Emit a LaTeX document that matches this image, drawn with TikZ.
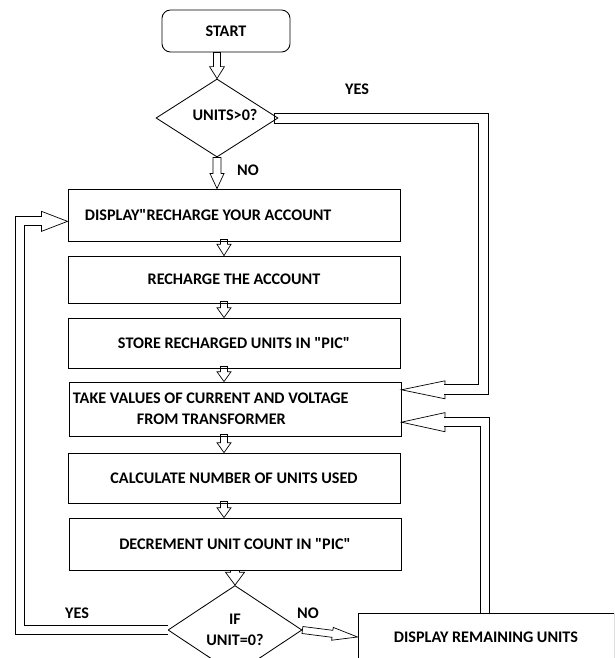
\documentclass[tikz,border=0pt]{standalone}
\usepackage{fontspec}
\setmainfont{Carlito}[Ligatures=TeXOff]
\usetikzlibrary{shapes.geometric}
\usetikzlibrary{arrows.meta}
\usetikzlibrary{calc}
\tikzset{>=latex}
\tikzset{
  box/.style={draw, line width=0.6pt, minimum width=8.3cm, minimum height=1.25cm, inner sep=0pt},
  decision/.style={draw, diamond, line width=0.6pt, inner sep=0pt, align=center},
  shaft/.style={double, double distance=#1, line width=0.5pt},
}
\newcommand\blockarrow{}
\def\blockarrow(#1)(#2)#3#4#5% (start) (tip) head length, head half width, shaft half width
  {\coordinate (hb) at ($(#2)!#3!(#1)$);
   \draw [line width=0.5pt] ($(#1)!#5!90:(#2)$) -- ($(hb)!#5!90:(#2)$) -- ($(hb)!#4!90:(#2)$) -- (#2)
     -- ($(hb)!#4!-90:(#2)$) -- ($(hb)!#5!-90:(#2)$) -- ($(#1)!#5!-90:(#2)$) -- cycle;}
\newcommand\hollowhead{}
\def\hollowhead(#1)(#2)#3#4#5% (corner) (tip) head length, head half width, shaft half width
  {\coordinate (hb) at ($(#2)!#3!(#1)$);
   \draw [line width=0.5pt] ($(hb)!#5!90:(#2)$) -- ($(hb)!#4!90:(#2)$) -- (#2)
     -- ($(hb)!#4!-90:(#2)$) -- ($(hb)!#5!-90:(#2)$);}

\begin{document}
\begin{tikzpicture}[x=0.025cm, y=-0.025cm, font=\fontsize{11.5}{15}\selectfont\bfseries]
                \clip (0, 0) rectangle (614, 658);
                % start and first test
                \node [draw, line width=0.6pt, rounded corners=6pt, minimum width=3.2cm, minimum height=1.05cm] (start) at (226, 31) {START};
                \node [decision, minimum width=3.05cm, minimum height=1.95cm] (q1) at (217, 118) {};
                \node (q1text) at (225, 115) {UNITS>0?};
                \node (yes1) at (357, 89) {YES};
                \node (no1) at (248, 170) {NO};
                % boxes
                \node [box, minimum height=1.3cm, text width=7.45cm, align=flush left] (box1) at (234, 215) {\raisebox{-3pt}{DISPLAY"RECHARGE YOUR ACCOUNT}};
                \node [box, minimum height=1.175cm] (box2) at (234, 279.5) {RECHARGE THE ACCOUNT};
                \node [box] (box3) at (234, 343) {STORE RECHARGED UNITS IN "PIC"};
                \node [box, minimum height=1.35cm, text width=8.1cm, align=flush left] (box4) at (235, 409) {TAKE VALUES OF CURRENT AND VOLTAGE\\\hspace*{1.6cm}FROM TRANSFORMER};
                \node [box] (box5) at (234, 478) {CALCULATE NUMBER OF UNITS USED};
                \node [box, minimum height=1.3cm] (box6) at (235, 544) {DECREMENT UNIT COUNT IN "PIC"};
                % second test
                \node [decision, minimum width=3.35cm, minimum height=1.85cm] (q2) at (235, 630) {IF\\UNIT=0?};
                \node (yes2) at (77, 613) {YES};
                \node (no2) at (308, 613) {NO};
                \node [draw, line width=0.6pt, minimum width=6.4cm, minimum height=1.2cm] (remain) at (486, 637) {DISPLAY REMAINING UNITS};
                % entry points and corners
                \coordinate (col) at (224, 0);
                \coordinate (yesin) at ($(box4.north east)!0.15!(box4.south east)$);
                \coordinate (backin) at ($(box4.north east)!0.74!(box4.south east)$);
                \coordinate (loopin) at ($(box1.north west)!0.62!(box1.south west)$);
                \coordinate (yestop) at (483, 0 |- q1.east);
                \coordinate (yescorner) at (483, 0 |- yesin);
                \coordinate (backcorner) at (485, 0 |- backin);
                \coordinate (loopcorner) at (20, 0 |- loopin);
                \coordinate (yesbase) at ($(yesin)!30.5pt!(yescorner)$);
                \coordinate (backbase) at ($(backin)!30.5pt!(backcorner)$);
                \coordinate (loopbase) at ($(loopin)!18pt!(loopcorner)$);
                % arrows down the column
                \blockarrow(q1.north |- start.south)(q1.north){8.5pt}{5.3pt}{2.5pt}
                \blockarrow(q1.south)(q1.south |- box1.north){10.7pt}{5pt}{2.8pt}
                \blockarrow($(box1.south -| col)+(0, -2)$)(box2.north -| col){8pt}{5pt}{2.5pt}
                \blockarrow($(box2.south -| col)+(0, -2)$)(box3.north -| col){7pt}{5pt}{2.5pt}
                \blockarrow($(box3.south -| col)+(0, -2)$)(box4.north -| col){7pt}{5pt}{2.5pt}
                \blockarrow($(box4.south -| col)+(0, -2)$)(box5.north -| col){7pt}{5pt}{2.5pt}
                \blockarrow($(box5.south -| col)+(0, -2)$)(box6.north -| col){7pt}{5pt}{2.5pt}
                \blockarrow(box6.south -| q2.north)(q2.north){9.2pt}{6.8pt}{3.2pt}
                \blockarrow(q2.east)(remain.west){18pt}{4.6pt}{2.5pt}
                % yes branch to the transformer box
                \draw [line width=0.5pt] ($(yesbase)+(0, 5)$) -- ($(yescorner)+(5, 5)$) -- ($(yestop)+(5, -5)$) -- ($(q1.east)+(-4, -5)$)
                  -- ($(q1.east)+(-4, 5)$) -- ($(yestop)+(-5, 5)$) -- ($(yescorner)+(-5, -5)$) -- ($(yesbase)+(0, -5)$);
                \hollowhead(yescorner)(yesin){31pt}{6.4pt}{3.6pt}
                % loop back to the first box
                \draw [shaft=5.9pt] (q2.west) -| (loopcorner) -- (loopbase);
                \hollowhead(loopcorner)(loopin){18.5pt}{7.1pt}{3.2pt}
                % remaining units back to the transformer box
                \draw [shaft=5.9pt] (remain.north -| backcorner) -- (backcorner) -- (backbase);
                \hollowhead(backcorner)(backin){31pt}{6.8pt}{3.2pt}
            \end{tikzpicture}
\end{document}
